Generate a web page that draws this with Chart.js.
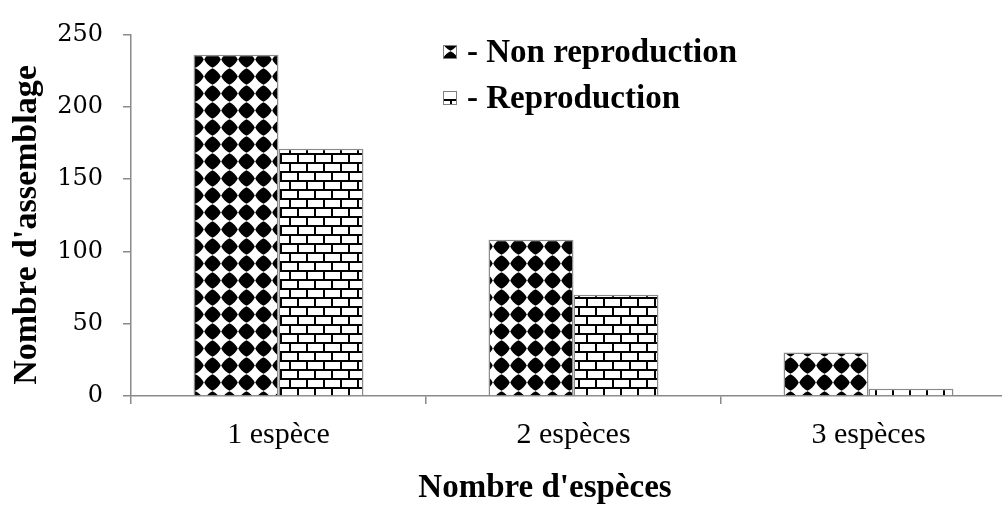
<!DOCTYPE html>
<html>
<head>
<meta charset="utf-8">
<script src="https://cdn.jsdelivr.net/npm/chart.js@4/dist/chart.umd.min.js"></script>
<style>
  html, body { margin: 0; padding: 0; background: #fff; overflow: hidden; width: 1002px; height: 512px; }
  #wrap { width: 1020px; height: 512px; position: relative; }
</style>
</head>
<body>
<div id="wrap"><canvas id="c" width="1020" height="512"></canvas></div>
<script>
const categories = ['1 espèce', '2 espèces', '3 espèces'];
const seriesLabels = ['- Non reproduction', '- Reproduction'];
const nonReproduction = [236, 108, 30];
const reproduction = [171, 70, 5];
const yTicks = [0, 50, 100, 150, 200, 250];
const xTitle = "Nombre d'espèces";
const yTitle = "Nombre d'assemblage";

const SERIF = '"Liberation Serif", "Times New Roman", serif';

function diamondPattern() {
  const s = 17;
  const t = document.createElement('canvas');
  t.width = s; t.height = s;
  const g = t.getContext('2d');
  g.fillStyle = '#fff'; g.fillRect(0, 0, s, s);
  g.fillStyle = '#000';
  const c = s / 2, r = 8.3, k = 5.6;
  g.beginPath();
  g.moveTo(c, c - r);
  g.quadraticCurveTo(c + k, c - k, c + r, c);
  g.quadraticCurveTo(c + k, c + k, c, c + r);
  g.quadraticCurveTo(c - k, c + k, c - r, c);
  g.quadraticCurveTo(c - k, c - k, c, c - r);
  g.fill();
  return g.createPattern(t, 'repeat');
}
function brickPattern() {
  const w = 17, h = 18;
  const t = document.createElement('canvas');
  t.width = w; t.height = h;
  const g = t.getContext('2d');
  g.fillStyle = '#fff'; g.fillRect(0, 0, w, h);
  g.fillStyle = '#000';
  g.fillRect(0, 0, w, 2);
  g.fillRect(0, 9, w, 2);
  g.fillRect(0, 0, 2, 9);
  g.fillRect(8, 9, 2, 9);
  return g.createPattern(t, 'repeat');
}
const patterns = [diamondPattern(), brickPattern()];

const overlayPlugin = {
  id: 'overlay',
  afterDraw(chart) {
    const ctx = chart.ctx;
    ctx.save();
    // legend
    const rows = [52, 98];
    chart.data.datasets.forEach((ds, i) => {
      const y = rows[i];
      ctx.fillStyle = ds.backgroundColor;
      ctx.fillRect(443, y - 7, 14, 14);
      ctx.strokeStyle = '#808080';
      ctx.lineWidth = 1;
      ctx.strokeRect(443.5, y - 6.5, 13, 13);
      ctx.fillStyle = '#000';
      ctx.font = 'bold 33px ' + SERIF;
      ctx.textBaseline = 'middle';
      ctx.textAlign = 'left';
      ctx.fillText(ds.label, 467, y + 1);
    });
    // axis titles
    ctx.fillStyle = '#000';
    ctx.font = 'bold 33px ' + SERIF;
    ctx.textAlign = 'center';
    ctx.textBaseline = 'middle';
    ctx.fillText(xTitle, 545, 488);
    ctx.translate(27, 225);
    ctx.rotate(-Math.PI / 2);
    ctx.font = 'bold 34px ' + SERIF;
    ctx.fillText(yTitle, 0, 0);
    ctx.restore();
  }
};

new Chart(document.getElementById('c'), {
  type: 'bar',
  data: {
    labels: categories,
    datasets: [
      { label: seriesLabels[0], data: nonReproduction, backgroundColor: patterns[0], borderColor: '#8a8a8a', borderWidth: 1.5 },
      { label: seriesLabels[1], data: reproduction, backgroundColor: patterns[1], borderColor: '#8a8a8a', borderWidth: 1.5 }
    ]
  },
  options: {
    responsive: false,
    animation: false,
    devicePixelRatio: 1,
    layout: { padding: { top: 31, right: 4, left: 0, bottom: 0 } },
    datasets: { bar: { categoryPercentage: 0.576, barPercentage: 1.0 } },
    plugins: { legend: { display: false }, tooltip: { enabled: false }, title: { display: false } },
    scales: {
      x: {
        grid: { drawOnChartArea: false, drawTicks: true, tickLength: 8, color: '#8a8a8a', lineWidth: 1.5 },
        border: { color: '#8a8a8a', width: 1.5 },
        ticks: { color: '#000', padding: 13, font: { family: SERIF, size: 30 } },
        title: { display: false },
        afterFit(scale) { scale.height = 116; }
      },
      y: {
        min: 0, max: 250,
        afterBuildTicks(scale) { scale.ticks = yTicks.map(v => ({ value: v })); },
        grid: { drawOnChartArea: false, drawTicks: true, tickLength: 8, color: '#8a8a8a', lineWidth: 1.5 },
        border: { color: '#8a8a8a', width: 1.5 },
        ticks: { color: '#000', padding: 20, font: { family: '"DejaVu Serif", serif', size: 24 } },
        title: { display: false },
        afterFit(scale) { scale.width = 131; }
      }
    }
  },
  plugins: [overlayPlugin]
});
</script>
</body>
</html>
